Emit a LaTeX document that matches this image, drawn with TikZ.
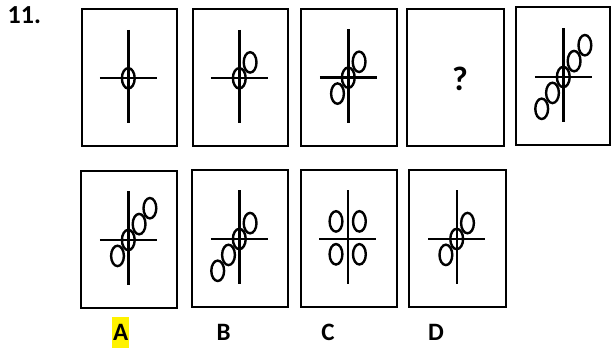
\documentclass[tikz,border=0pt]{standalone}
\usepackage{fontspec}
\setmainfont{Carlito}
\usepackage{tikz}
\usetikzlibrary{positioning}
\usepackage{xcolor}

\tikzset{
  frame/.style={draw=black, line width=2pt},
  crossline/.style={draw=black, line width=2.4pt},
  ring/.style={draw=black, line width=2.4pt},
  answer/.style={font=\bfseries\fontsize{25pt}{28pt}\selectfont, anchor=base, inner sep=0pt}
}

% cross at (#1,#2)
\newcommand{\figcross}[2]{%
  \draw[crossline] (#1,#2-48.5) -- (#1,#2+45);
  \draw[crossline] (#1-28.5,#2) -- (#1+28.5,#2);
}
% ring number #3 along the chain from cross (#1,#2)
\newcommand{\chainring}[3]{%
  \draw[ring] ({#1+#3*10.8},{#2-#3*15.9}) ellipse [x radius=6.4, y radius=10.2];
}

\begin{document}
\begin{tikzpicture}[x=1pt, y=-1pt]
\useasboundingbox (0,0) rectangle (611,352);

%Question number
\node[font=\bfseries\fontsize{26pt}{28pt}\selectfont, anchor=base west, inner sep=0pt] (qnum) at (7.5,24) {11.};

%Figure 1
\draw[frame] (81.7,9) rectangle (177.3,146);
\figcross{128.3}{78.3}
\chainring{128.3}{78.3}{0}

%Figure 2
\draw[frame] (192.7,9) rectangle (288.3,146);
\figcross{239.3}{78.3}
\foreach \k in {0,1} {\chainring{239.3}{78.3}{\k}}

%Figure 3
\draw[frame] (301,9) rectangle (397,145.7);
\figcross{348.3}{77.7}
\foreach \k in {-1,0,1} {\chainring{348.3}{77.7}{\k}}

%Figure 4
\draw[frame] (407.3,9) rectangle (504.3,146);
\node[font=\bfseries\fontsize{34pt}{36pt}\selectfont, inner sep=0pt] (missing) at (460,79) {?};

%Figure 5
\draw[frame] (516,7.5) rectangle (610,145);
\figcross{563.3}{77}
\foreach \k in {-2,...,2} {\chainring{563.3}{77}{\k}}

%Option A
\draw[frame] (80.7,170.7) rectangle (176.7,308.3);
\figcross{128.3}{240}
\foreach \k in {-1,...,2} {\chainring{128.3}{240}{\k}}

%Option B
\draw[frame] (192,170) rectangle (288.3,307.3);
\figcross{239.3}{239}
\foreach \k in {-2,...,1} {\chainring{239.3}{239}{\k}}

%Option C
\draw[frame] (300.7,170) rectangle (396.7,307.3);
\figcross{347.7}{239}
\foreach \dx in {-11.7,11.7}
  \foreach \dy in {-17.6,15.3}
    \draw[ring] (347.7+\dx,239+\dy) ellipse [x radius=6.4, y radius=10.2];

%Option D
\draw[frame] (409.3,170) rectangle (505.7,307.3);
\figcross{456.7}{239}
\foreach \k in {-1,0,1} {\chainring{456.7}{239}{\k}}

%Answer letters
\node[answer, fill=yellow, text height=23.4pt, text depth=7pt, minimum width=17pt] (optA) at (120.8,340.7) {A};
\node[answer] (optB) at (223.7,340.7) {B};
\node[answer] (optC) at (328,340.7) {C};
\node[answer] (optD) at (436,340.7) {D};
\end{tikzpicture}
\end{document}
